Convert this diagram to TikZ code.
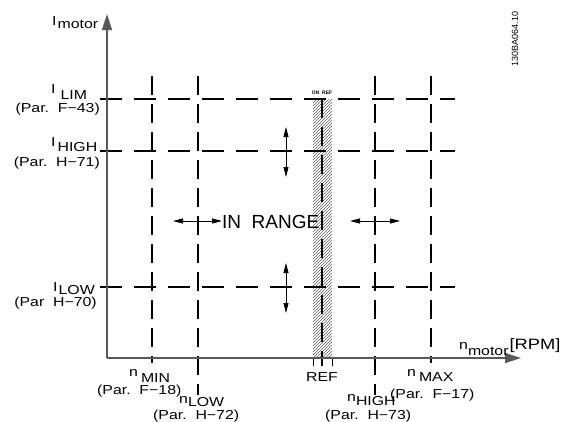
\documentclass[tikz,border=0pt]{standalone}
\usepackage{fontspec}
\setmainfont{Liberation Sans}
\newfontfamily\cadfont{Liberation Sans}[FakeStretch=1.22]
\usetikzlibrary{arrows.meta,positioning}

\newcommand{\lowsub}[2][6pt]{\raisebox{-#1}{#2}}

\begin{document}
\begin{tikzpicture}[x=1pt, y=-1pt,
    axis/.style={line width=1.3pt, draw=black!65, -{Triangle[length=16pt,width=10pt]}},
    limline/.style={line width=2.2pt, dash pattern=on 22pt off 12pt},
    speedline/.style={line width=2.2pt, dash pattern=on 19pt off 9pt},
    dbl/.style={line width=0.8pt, {Triangle[length=10pt,width=5pt]}-{Triangle[length=10pt,width=5pt]}},
    lbl/.style={font=\cadfont\fontsize{13}{13}\selectfont, inner sep=0pt},
    big/.style={font=\fontsize{19}{19}\selectfont, inner sep=0pt}
]
\useasboundingbox (0,0) rectangle (562,421);

\coordinate (O) at (107,358);

% hatched band around REF
\begin{scope}
\clip (313,99) rectangle (332,358);
\foreach \k in {-21,-18,...,261}
    \draw[line width=0.35pt, black!80] (313,{358-\k}) -- ++(40,-40);
\end{scope}

% current limits
\draw[limline] (100,99) -- (455,99);
\draw[limline] (100,151) -- (455,151);
\draw[limline] (100,287) -- (455,287);

% speed limits
\draw[speedline] (152,76) -- (152,363);
\draw[speedline] (198,76) -- (198,395);
\draw[speedline] (375,76) -- (375,395);
\draw[speedline] (431,76) -- (431,363);
\draw[speedline] (322,99) -- (322,366);
\draw[line width=0.9pt] (313,358) -- (313,366);
\draw[line width=0.9pt] (332,358) -- (332,366);

% axes
\draw[axis] (O) -- (107,14);
\draw[axis] (O) -- (521,358);

% ranges
\draw[dbl] (173,221) -- (222,221);
\draw[dbl] (350,221) -- (400,221);
\draw[dbl] (286,127) -- (286,177);
\draw[dbl] (286,263) -- (286,313);

% labels
\node[lbl, anchor=base west] (imot) at (52,25) {I\hspace{1pt}\lowsub[3pt]{motor}};
\node[lbl, anchor=base west] (ilim) at (51,93) {I\hspace{5pt}\lowsub[6pt]{LIM}};
\node[lbl, anchor=base east] (parlim) at (100,112) {(Par.\ \ F−43)};
\node[lbl, anchor=base west] (ihigh) at (51,146) {I\hspace{2pt}\lowsub[5pt]{HIGH}};
\node[lbl, anchor=base east] (parhigh) at (100,166) {(Par.\ \ H−71)};
\node[lbl, anchor=base west] (ilow) at (53,291) {I\hspace{1pt}\lowsub[3pt]{LOW}};
\node[lbl, anchor=base east] (parlow) at (97,306) {(Par\ \ H−70)};

\node[lbl, anchor=base west] (nmin) at (129,376) {n\hspace{3pt}\lowsub[6pt]{MIN}};
\node[lbl, anchor=base west] (parmin) at (97,394) {(Par.\ \ F−18)};
\node[lbl, anchor=base west] (nlow) at (179,403) {n\lowsub[3pt]{LOW}};
\node[lbl, anchor=base west] (parnlow) at (153,419) {(Par.\ \ H−72)};
\node[lbl, anchor=base] (ref) at (322,381) {REF};
\node[lbl, anchor=base west] (nhigh) at (347,401) {n\lowsub[4pt]{HIGH}};
\node[lbl, anchor=base west] (parnhigh) at (325,419) {(Par.\ \ H−73)};
\node[lbl, anchor=base west] (nmax) at (407,376) {n\hspace{3pt}\lowsub[5pt]{MAX}};
\node[lbl, anchor=base west] (parmax) at (390,398) {(Par.\ \ F−17)};
\node[lbl, anchor=base west] (nmot) at (459,349) {n\lowsub[6pt]{motor}\hspace{1pt}{\fontsize{15}{15}\selectfont[RPM]}};

\node[big, anchor=base west] (inrange) at (222,228) {IN\ \ RANGE};
\node[font=\bfseries\fontsize{5}{5}\selectfont, inner sep=0pt] (onref) at (322,93) {ON\ \ REF};
\node[font=\fontsize{9}{9}\selectfont, rotate=90, inner sep=0pt] (docid) at (515,39) {130BA064.10};
\end{tikzpicture}
\end{document}
